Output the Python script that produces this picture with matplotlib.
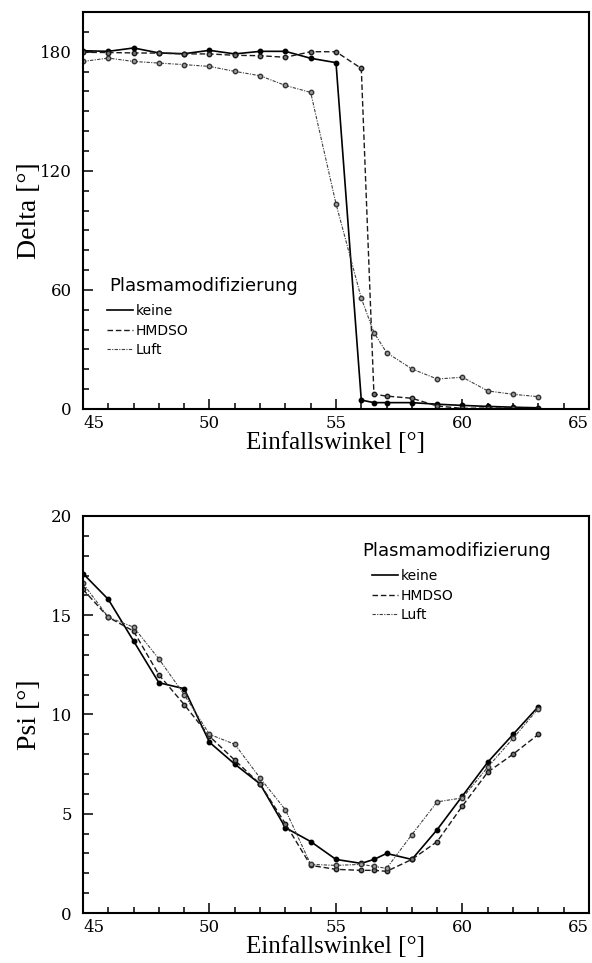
import numpy as np
import matplotlib
matplotlib.use('Agg')
import matplotlib.pyplot as plt
from matplotlib.ticker import MultipleLocator

# Einfallswinkel (deg)
winkel = [45, 46, 47, 48, 49, 50, 51, 52, 53, 54, 55, 56, 56.5, 57, 58, 59, 60, 61, 62, 63]

# Delta (deg)
delta_keine = [180.5, 180.2, 181.9, 179.4, 179.0, 180.7, 178.9, 180.2, 180.2, 176.7, 174.5,
               4.5, 3.2, 3.2, 3.2, 2.4, 1.8, 1.3, 0.9, 0.6]
delta_hmdso = [179.7, 179.6, 179.4, 179.3, 178.9, 178.9, 178.2, 178.0, 177.2, 180.0, 180.0,
               171.6, 7.4, 6.5, 5.4, 1.5, 0.3, 0.5, 0.4, 0.2]
delta_luft = [175.1, 176.8, 175.1, 174.3, 173.5, 172.6, 170.1, 167.9, 163.0, 159.5, 103.4,
              55.8, 38.5, 28.4, 20.2, 15.1, 16.0, 9.1, 7.4, 6.2]

# Psi (deg)
psi_keine = [17.1, 15.8, 13.7, 11.6, 11.3, 8.6, 7.5, 6.5, 4.3, 3.6, 2.7, 2.5, 2.7, 3.0,
             2.7, 4.2, 5.9, 7.6, 9.0, 10.4]
psi_hmdso = [16.3, 14.9, 14.2, 12.0, 10.5, 8.9, 7.7, 6.5, 4.5, 2.4, 2.2, 2.15, 2.15, 2.1,
             2.7, 3.6, 5.4, 7.1, 8.0, 9.0]
psi_luft = [16.6, 14.9, 14.4, 12.8, 11.0, 9.0, 8.5, 6.8, 5.2, 2.45, 2.4, 2.45, 2.35, 2.25,
            3.95, 5.6, 5.8, 7.35, 8.8, 10.3]

labels = ['keine', 'HMDSO', 'Luft']
xticks = [45, 50, 55, 60, 65]
delta_ticks = [0, 60, 120, 180]
psi_ticks = [0, 5, 10, 15, 20]

# line styles for the three treatments
styles = [
    dict(color='black', lw=1.2, ls='-', marker='o', ms=3.2, mfc='black', mec='black'),
    dict(color='0.1', lw=1.0, dashes=(4, 2), marker='o', ms=3.2, mfc='0.45', mec='0.1'),
    dict(color='0.25', lw=0.8, dashes=(3, 1.2, 1, 1.2), marker='o', ms=3.2, mfc='0.6', mec='0.2'),
]

serif = 'Liberation Serif'
tickfont = 'DejaVu Serif'

fig = plt.figure(figsize=(5.92, 9.63), dpi=100)
ax1 = fig.add_axes([0.1402, 0.5753, 0.8547, 0.4122])
ax2 = fig.add_axes([0.1402, 0.0519, 0.8547, 0.4123])


def style_axes(ax, ymax, yticks, yminor, ylabel):
    ax.set_xlim(45, 65)
    ax.set_ylim(0, ymax)
    ax.set_xticks(xticks)
    ax.set_yticks(yticks)
    ax.xaxis.set_minor_locator(MultipleLocator(1))
    ax.yaxis.set_minor_locator(MultipleLocator(yminor))
    ax.tick_params(which='both', direction='in', top=False, right=False, width=1.1)
    ax.tick_params(which='major', length=7)
    ax.tick_params(which='minor', length=4.3)
    ax.tick_params(axis='y', pad=8)
    ax.tick_params(axis='x', pad=4)
    for lab in ax.get_xticklabels() + ax.get_yticklabels():
        lab.set_fontfamily(tickfont)
        lab.set_fontsize(12)
    # keep the edge labels inside the frame like the original
    xl = ax.get_xticklabels()
    xl[0].set_horizontalalignment('left')
    xl[-1].set_horizontalalignment('right')
    for sp in ax.spines.values():
        sp.set_linewidth(1.5)
    ax.set_xlabel('Einfallswinkel [°]', fontfamily=serif, fontsize=18)
    ax.set_ylabel(ylabel, fontfamily=serif, fontsize=20)
    ax.xaxis.set_label_coords(0.5, -0.058)
    ax.yaxis.set_label_coords(-0.082, 0.5)


for ys, lab, st in zip([delta_keine, delta_hmdso, delta_luft], labels, styles):
    ax1.plot(winkel, ys, label=lab, **st)
for ys, lab, st in zip([psi_keine, psi_hmdso, psi_luft], labels, styles):
    ax2.plot(winkel, ys, label=lab, **st)

style_axes(ax1, 200, delta_ticks, 10, 'Delta [°]')
style_axes(ax2, 20, psi_ticks, 1, 'Psi [°]')

# legend: title as a separate text, entries as a plain legend
leg_kw = dict(frameon=False, loc='upper left', fontsize=10, handlelength=1.9,
              handletextpad=0.15, labelspacing=0.4, borderpad=0, borderaxespad=0)
ax1.text(0.0514, 0.310, 'Plasmamodifizierung', transform=ax1.transAxes,
         fontsize=13, va='center', ha='left')
leg1 = ax1.legend(bbox_to_anchor=(0.047, 0.264), **leg_kw)
ax2.text(0.551, 0.9126, 'Plasmamodifizierung', transform=ax2.transAxes,
         fontsize=13, va='center', ha='left')
leg2 = ax2.legend(bbox_to_anchor=(0.571, 0.866), **leg_kw)
for leg in (leg1, leg2):
    for line in leg.get_lines():
        line.set_marker('')

fig.savefig('out.png', dpi=100)
